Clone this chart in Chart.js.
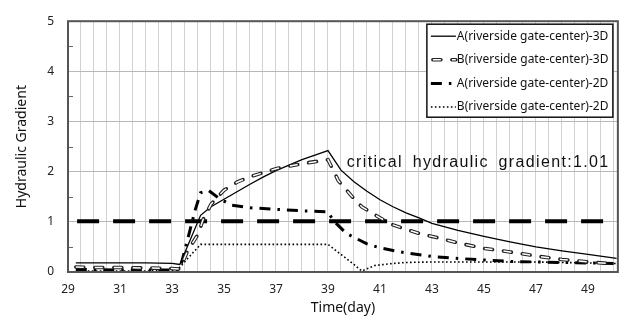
<!DOCTYPE html>
<html><head><meta charset="utf-8">
<script src="https://cdn.jsdelivr.net/npm/chart.js@4.4.1/dist/chart.umd.min.js"></script>
<style>html,body{margin:0;padding:0;background:#fff;}canvas{display:block;}</style>
</head><body>
<canvas id="c" width="624" height="322"></canvas>
<script>
// ---- data ----
const daysA3D = [29.3,30,31,32,33,33.3,34.1,34.5,35,35.5,36,36.5,37,37.5,38,38.5,39,39.5,40,40.5,41,41.5,42,42.5,43,44,45,46,47,48,49,50.1];
const valsA3D = [0.18,0.18,0.18,0.18,0.17,0.15,1.13,1.30,1.45,1.60,1.75,1.89,2.02,2.13,2.24,2.33,2.42,2.03,1.80,1.61,1.44,1.30,1.18,1.08,0.97,0.83,0.71,0.60,0.50,0.42,0.35,0.27];

const daysB3D = [29.3,30,31,32,33,33.3,33.6,34.0,34.2,34.5,35,35.5,36,36.5,37,37.5,38,38.5,39,39.4,39.9,40.3,41,41.5,42,42.5,43,44,45,46,47,48,49,50.1];
const valsB3D = [0.10,0.09,0.09,0.08,0.07,0.06,0.42,0.75,1.05,1.35,1.63,1.79,1.90,1.98,2.06,2.11,2.16,2.20,2.24,1.82,1.52,1.30,1.08,0.94,0.85,0.77,0.71,0.58,0.47,0.40,0.32,0.25,0.20,0.16];

const daysA2D = [29.3,30,31,32,33,33.3,33.7,33.9,34.1,34.4,34.8,35.3,36,37,38,39,39.2,39.7,40.5,41,42,43,44,45,46,47,48,49,50.1];
const valsA2D = [0.05,0.05,0.04,0.04,0.04,0.05,0.85,1.25,1.58,1.63,1.47,1.33,1.28,1.25,1.22,1.20,1.03,0.77,0.56,0.48,0.38,0.31,0.27,0.24,0.21,0.20,0.19,0.18,0.17];

const daysB2D = [29.3,30,31,32,33,33.2,34.1,35,36,37,38,39,39.5,40,40.3,40.8,41.5,42,43,44,45,46,47,48,49,50.1];
const valsB2D = [0.02,0.02,0.02,0.02,0.03,0.04,0.55,0.55,0.55,0.55,0.55,0.55,0.35,0.15,0.02,0.13,0.17,0.19,0.20,0.20,0.20,0.20,0.20,0.19,0.18,0.17];

const criticalDays = [29.35, 50.15];
const criticalValue = 1.01;
const criticalLabel = 'critical hydraulic gradient:1.01';

const seriesNames = ['A(riverside gate-center)-3D','B(riverside gate-center)-3D','A(riverside gate-center)-2D','B(riverside gate-center)-2D'];
const xTickLabels = [29,31,33,35,37,39,41,43,45,47,49];
const yTickLabels = [0,1,2,3,4,5];
const xTitle = 'Time(day)';
const yTitle = 'Hydraulic Gradient';

function pts(d, v){ return d.map((x,i)=>({x:x, y:v[i]})); }

const FONT = "'Noto Sans', 'Liberation Sans', sans-serif";

const styles = [
  {borderColor:'#000', borderWidth:1.3, borderDash:[]},
  {borderColor:'#222', borderWidth:3.6, borderDash:[8,11], borderCapStyle:'round'},
  {borderColor:'#000', borderWidth:3, borderDash:[11,7,2.5,7]},
  {borderColor:'#000', borderWidth:1.6, borderDash:[1.6,2.4]}
];
const innerB = {borderColor:'#fff', borderWidth:1.5, borderDash:[8,11], borderCapStyle:'butt'};

const framePlugin = {
  id:'frame',
  afterDraw(chart){
    const {ctx, chartArea:a, scales} = chart;
    ctx.save();
    // minor inside ticks at half units
    ctx.strokeStyle = '#666'; ctx.lineWidth = 1;
    for (let i = 0; i < yTickLabels.length - 1; i++){
      const y = Math.round(scales.y.getPixelForValue(yTickLabels[i] + 0.5)) + 0.5;
      ctx.beginPath(); ctx.moveTo(a.left, y); ctx.lineTo(a.left + 5, y); ctx.stroke();
    }
    ctx.strokeStyle = '#555'; ctx.lineWidth = 2;
    ctx.strokeRect(a.left, a.top, a.right - a.left, a.bottom - a.top);

    // critical label
    ctx.font = '16px ' + "'Liberation Sans', Arial, sans-serif";
    ctx.fillStyle = '#111';
    ctx.textBaseline = 'middle';
    ctx.textAlign = 'left';
    try { ctx.letterSpacing = '1.35px'; ctx.wordSpacing = '4px'; } catch(e){}
    ctx.fillText(criticalLabel, scales.x.getPixelForValue(39.72), scales.y.getPixelForValue(2.18));
    try { ctx.letterSpacing = '0px'; ctx.wordSpacing = '0px'; } catch(e){}

    // legend box
    const bw = 186, bh = 93;
    const bx = a.right - 5 - bw, by = a.top + 3;
    ctx.fillStyle = '#fff';
    ctx.fillRect(bx, by, bw, bh);
    ctx.strokeStyle = '#111'; ctx.lineWidth = 1.5;
    ctx.strokeRect(bx, by, bw, bh);
    ctx.font = '12px ' + FONT;
    ctx.textBaseline = 'middle';
    for (let i = 0; i < seriesNames.length; i++){
      const y = by + 12 + i * 23.6;
      const s = styles[i];
      const x1 = bx + 4, x2 = bx + 29;
      ctx.save();
      ctx.strokeStyle = s.borderColor; ctx.lineWidth = s.borderWidth;
      ctx.setLineDash(s.borderDash); ctx.lineCap = s.borderCapStyle || 'butt';
      ctx.beginPath(); ctx.moveTo(x1 + (i===1?2:0), y); ctx.lineTo(x2, y); ctx.stroke();
      if (i === 1){
        ctx.strokeStyle = innerB.borderColor; ctx.lineWidth = innerB.borderWidth;
        ctx.setLineDash(innerB.borderDash); ctx.lineCap = 'butt';
        ctx.beginPath(); ctx.moveTo(x1 + 2, y); ctx.lineTo(x2, y); ctx.stroke();
      }
      ctx.restore();
      ctx.fillStyle = '#111';
      ctx.fillText(seriesNames[i], bx + 30, y);
    }
    ctx.restore();
  }
};

const common = {fill:false, pointRadius:0, pointHoverRadius:0, tension:0};

new Chart(document.getElementById('c'), {
  type:'line',
  data:{
    datasets:[
      Object.assign({label:'critical', data:pts(criticalDays,[criticalValue,criticalValue]), borderColor:'#000', borderWidth:4, borderDash:[22,14], order:5}, common),
      Object.assign({label:seriesNames[0], data:pts(daysA3D,valsA3D), order:2}, common, styles[0]),
      Object.assign({label:seriesNames[1], data:pts(daysB3D,valsB3D), order:1}, common, styles[1]),
      Object.assign({label:seriesNames[1]+' inner', data:pts(daysB3D,valsB3D), order:0}, common, innerB),
      Object.assign({label:seriesNames[2], data:pts(daysA2D,valsA2D), order:2}, common, styles[2]),
      Object.assign({label:seriesNames[3], data:pts(daysB2D,valsB2D), order:2}, common, styles[3])
    ]
  },
  options:{
    responsive:false,
    animation:false,
    layout:{padding:{top:13, right:4, left:0, bottom:0}},
    plugins:{legend:{display:false}, tooltip:{enabled:false}},
    scales:{
      x:{
        type:'linear', min:29, max:50.15,
        ticks:{stepSize:0.5, includeBounds:false, autoSkip:false, maxRotation:0, padding:10, color:'#222',
          font:{family:FONT, size:12},
          callback:(v)=> xTickLabels.some(t=>Math.abs(t-v)<1e-6) ? String(Math.round(v)) : ''},
        grid:{color:'#d2d2d2', lineWidth:1, drawTicks:false},
        border:{display:false},
        title:{display:true, text:xTitle, color:'#111', font:{family:FONT, size:14}, padding:{top:0, bottom:6}},
        afterFit(s){ s.height = 50; }
      },
      y:{
        type:'linear', min:0, max:5,
        ticks:{stepSize:1, padding:14, color:'#222', font:{family:FONT, size:12},
          callback:(v)=> yTickLabels.includes(v) ? String(v) : ''},
        grid:{color:'#b8b8b8', lineWidth:1, drawTicks:false},
        border:{display:false},
        title:{display:true, text:yTitle, color:'#111', font:{family:FONT, size:14}, padding:{top:14, bottom:0}},
        afterFit(s){ s.width = 68; }
      }
    }
  },
  plugins:[framePlugin]
});
</script>
</body></html>
